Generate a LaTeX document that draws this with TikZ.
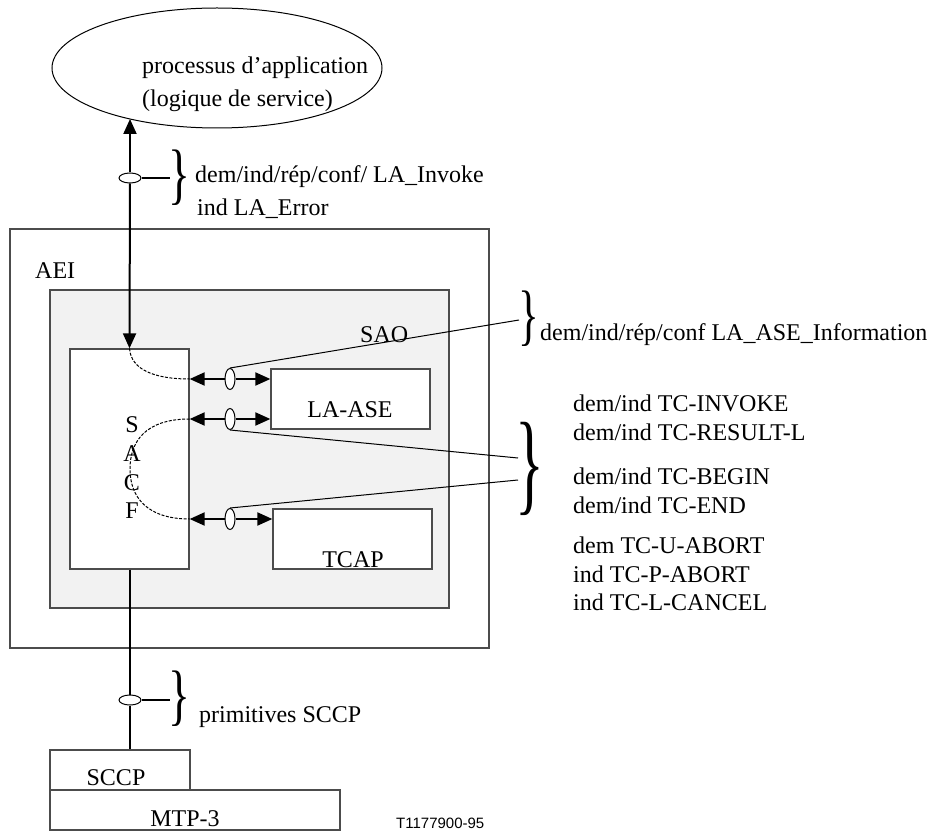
\documentclass[tikz,border=0pt]{standalone}
\usepackage{fontspec}
\setmainfont{Liberation Serif}
\newfontfamily\figsans{Liberation Sans}
\usetikzlibrary{arrows.meta,shapes.geometric}
\begin{document}
\begin{tikzpicture}[x=1pt,y=-1pt,
  every node/.style={font=\fontsize{24}{28}\selectfont, inner sep=0pt},
  box/.style={draw=black!70, line width=1.3pt, fill=white},
  graybox/.style={draw=black!70, line width=1.3pt, fill=black!5},
  tipend/.style={line width=2pt, -{Triangle[length=15pt,width=13pt]}},
  wire/.style={line width=2pt},
  thinwire/.style={line width=1pt},
  hring/.style={ellipse, draw, fill=white, line width=1pt, minimum width=22pt, minimum height=10pt},
  vring/.style={ellipse, draw, fill=white, line width=1pt, minimum width=10pt, minimum height=21pt},
  dashcurve/.style={line width=1pt, dash pattern=on 3pt off 1.5pt},
  lbl/.style={anchor=base west},
  clbl/.style={anchor=base}]
\useasboundingbox (0,0) rectangle (939,834);

% application process
\node[ellipse, draw, line width=1pt, minimum width=330pt, minimum height=120pt] (ap) at (217,68) {};
\node[lbl] (ap1) at (142,74) {processus d’application};
\node[lbl] (ap2) at (142,107) {(logique de service)};
\coordinate (apin) at (130,119);

% boxes
\node[box, minimum width=479pt, minimum height=419pt] (aei) at (249.5,438.5) {};
\node[graybox, minimum width=399pt, minimum height=318pt] (sao) at (249.5,449) {};
\node[box, minimum width=119pt, minimum height=220pt] (sacf) at (129.5,459) {};
\node[box, minimum width=159pt, minimum height=60pt] (lase) at (350.5,399) {};
\node[box, minimum width=159pt, minimum height=60pt] (tcap) at (352.5,539) {};
\node[box, minimum width=290pt, minimum height=40pt] (mtp) at (195,810) {};
\node[box, minimum width=140pt, minimum height=40pt] (sccp) at (120,770) {};

\node[lbl] (aeil) at (35,278) {AEI};
\node[lbl] (saol) at (360,342) {SAO};
\node[clbl] (s1) at (132,432) {S};
\node[clbl] (s2) at (132,461) {A};
\node[clbl] (s3) at (132,490) {C};
\node[clbl] (s4) at (132,518) {F};
\node[clbl] (lasel) at (350,417) {LA-ASE};
\node[clbl] (tcapl) at (353,567) {TCAP};
\node[clbl] (sccpl) at (116,785) {SCCP};
\node[clbl] (mtpl) at (185,826) {MTP-3};
\node[lbl, font=\figsans\fontsize{15}{18}\selectfont] (ref) at (396,828) {T1177900-95};

% upper interface
\node[hring] (vi) at (130,178) {};
\draw[tipend] (vi) -- (apin);
\draw[tipend] (vi) -- (sacf.north);
\coordinate (b1in) at (170,178);
\draw[wire, line width=1.5pt] (vi) -- (b1in);
\node (b1) at (179,178) {\scalebox{1.9}[2.8]{\}}};
\node[lbl] (t1) at (195,183) {dem/ind/rép/conf/ LA\_Invoke};
\node[lbl] (t2) at (197,216) {ind LA\_Error};

% horizontal interfaces
\node[vring] (ea) at (230,379) {};
\node[vring] (eb) at (230,419) {};
\node[vring] (ec) at (230,519) {};
\foreach \e/\b in {ea/lase, eb/lase, ec/tcap}{
  \draw[tipend] (\e) -- (sacf.east |- \e);
  \draw[tipend] (\e) -- (\b.west |- \e);
}

% dashed internal paths
\draw[dashcurve] (sacf.north) .. controls (131,370) and (155,379) .. (sacf.east |- ea);
\draw[dashcurve] (sacf.east |- eb) .. controls (145,419) and (130,442) .. (130,469)
   .. controls (130,497) and (147,519) .. (sacf.east |- ec);

% leader lines to braces
\coordinate (la) at (519,320);
\coordinate (lb) at (518,458);
\coordinate (lc) at (518,480);
\draw[thinwire] (ea.north) -- (la);
\draw[thinwire] (eb.south) -- (lb);
\draw[thinwire] (ec.north) -- (lc);

\node (b2) at (529,319) {\scalebox{1.8}[2.8]{\}}};
\node[lbl] (t3) at (540,340) {dem/ind/rép/conf LA\_ASE\_Information};

\node (b3) at (530,469) {\scalebox{2.5}[4.7]{\}}};
\node[lbl] (c1) at (573,411) {dem/ind TC-INVOKE};
\node[lbl] (c2) at (573,440) {dem/ind TC-RESULT-L};
\node[lbl] (c3) at (573,484) {dem/ind TC-BEGIN};
\node[lbl] (c4) at (573,513) {dem/ind TC-END};
\node[lbl] (c5) at (573,553) {dem TC-U-ABORT};
\node[lbl] (c6) at (573,582) {ind TC-P-ABORT};
\node[lbl] (c7) at (573,610) {ind TC-L-CANCEL};

% lower interface
\node[hring] (vs) at (130,700) {};
\draw[wire] (sacf.south -| vs) -- (vs);
\draw[wire] (vs) -- (vs |- sccp.north);
\coordinate (b4in) at (170,700);
\draw[wire, line width=1.5pt] (vs) -- (b4in);
\node (b4) at (179,699) {\scalebox{1.9}[2.8]{\}}};
\node[lbl] (t4) at (199,722) {primitives SCCP};
\end{tikzpicture}
\end{document}
